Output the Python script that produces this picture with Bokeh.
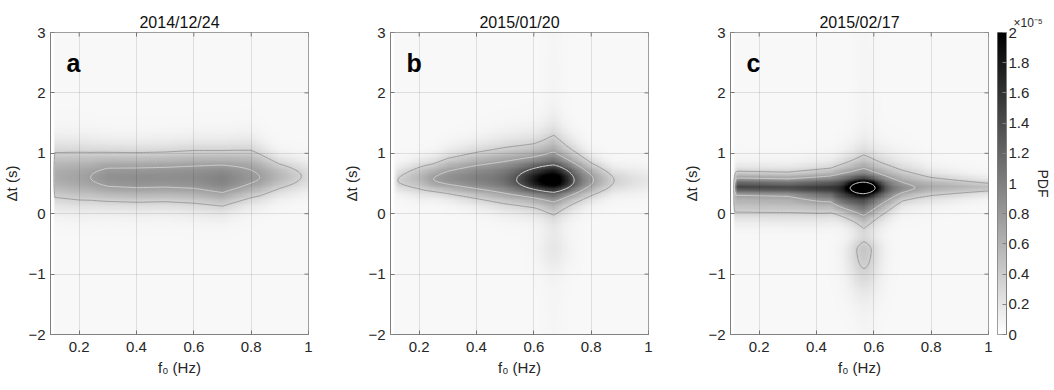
import numpy as np
import contourpy
from bokeh.plotting import figure
from bokeh.layouts import row
from bokeh.models import LinearColorMapper, FixedTicker, Label, Range1d
from bokeh.embed import file_html
from bokeh.resources import INLINE

# ---------------- data (PDF values in units of 1e-5) ----------------
panel_titles = ["2014/12/24", "2015/01/20", "2015/02/17"]
panel_letters = ["a", "b", "c"]
f0_range = [0.1, 1.0]
dt_range = [-2, 3]
f0_ticks = [0.2, 0.4, 0.6, 0.8, 1.0]
f0_tick_labels = ["0.2", "0.4", "0.6", "0.8", "1"]
dt_ticks = [-2, -1, 0, 1, 2, 3]
pdf_ticks = [0, 0.2, 0.4, 0.6, 0.8, 1.0, 1.2, 1.4, 1.6, 1.8, 2.0]
pdf_tick_labels = ["0", "0.2", "0.4", "0.6", "0.8", "1", "1.2", "1.4", "1.6", "1.8", "2"]
pdf_background = [0.06, 0.06, 0.06]
f0_start = 0.11

# panel a: PDF ridge along f0 (amplitude, centre dt, widths above/below, shape exponents)
a_f0 = [0.105, 0.115, 0.2, 0.24, 0.3, 0.4, 0.5, 0.6, 0.7, 0.8, 0.83, 0.9, 0.975, 1.0]
a_amp = [0.0, 0.6, 0.66, 0.7, 0.8, 0.82, 0.82, 0.84, 0.92, 0.75, 0.7, 0.5, 0.3, 0.22]
a_center = [0.62, 0.62, 0.6, 0.6, 0.6, 0.59, 0.6, 0.6, 0.57, 0.6, 0.6, 0.62, 0.62, 0.62]
a_width_up = [0.47, 0.47, 0.47, 0.45, 0.42, 0.42, 0.42, 0.44, 0.45, 0.47, 0.42, 0.28, 0.25, 0.25]
a_width_dn = [0.42, 0.42, 0.42, 0.41, 0.40, 0.40, 0.40, 0.42, 0.42, 0.35, 0.33, 0.28, 0.25, 0.25]
a_shape_up = [2.0] * 14
a_shape_dn = [2.0] * 14
a_spot_f0, a_spot_dt, a_spot_amp = [], [], []
a_spot_sf_lo, a_spot_sf_hi, a_spot_sdt_lo, a_spot_sdt_hi = [], [], [], []
a_levels = [0.36, 0.76]

# panel b
b_f0 = [0.105, 0.125, 0.2, 0.25, 0.3, 0.4, 0.5, 0.6, 0.67, 0.75, 0.8, 0.88, 0.95, 1.0]
b_amp = [0.0, 0.3, 0.5, 0.7, 0.8, 0.93, 1.0, 1.12, 1.16, 0.85, 0.7, 0.3, 0.18, 0.12]
b_center = [0.55, 0.55, 0.59, 0.57, 0.58, 0.58, 0.57, 0.56, 0.55, 0.55, 0.56, 0.55, 0.55, 0.55]
b_width_up = [0.21, 0.21, 0.25, 0.28, 0.34, 0.41, 0.48, 0.52, 0.62, 0.44, 0.30, 0.21, 0.21, 0.21]
b_width_dn = [0.18, 0.18, 0.25, 0.22, 0.25, 0.31, 0.37, 0.40, 0.47, 0.35, 0.28, 0.21, 0.21, 0.21]
b_shape_up = [2.0] * 14
b_shape_dn = [2.0] * 14
b_spot_f0 = [0.67, 0.67, 0.67]
b_spot_dt = [0.55, -0.6, 0.5]
b_spot_amp = [0.95, 0.1, 0.03]
b_spot_sf_lo = [0.08, 0.04, 0.025]
b_spot_sf_hi = [0.055, 0.04, 0.025]
b_spot_sdt_lo = [0.128, 0.25, 2.5]
b_spot_sdt_hi = [0.168, 0.25, 2.5]
b_levels = [0.36, 0.76, 1.36]

# panel c
c_f0 = [0.105, 0.12, 0.13, 0.3, 0.45, 0.565, 0.7, 0.745, 0.8, 1.0]
c_amp = [0.0, 1.3, 1.35, 1.3, 1.45, 1.4, 0.85, 0.7, 0.6, 0.45]
c_center = [0.44, 0.44, 0.44, 0.43, 0.43, 0.43, 0.42, 0.43, 0.45, 0.44]
c_width_up = [0.2, 0.2, 0.2, 0.2, 0.24, 0.39, 0.29, 0.26, 0.19, 0.115]
c_width_dn = [0.12, 0.12, 0.12, 0.12, 0.17, 0.49, 0.195, 0.19, 0.19, 0.115]
c_shape_up = [1.5] * 10
c_shape_dn = [1.5, 1.5, 1.5, 1.5, 1.5, 1.75, 1.5, 1.5, 1.5, 1.5]
c_spot_f0 = [0.565, 0.565, 0.57, 0.4]
c_spot_dt = [0.43, -0.62, 0.4, 0.2]
c_spot_amp = [1.6, 0.33, 0.03, 0.45]
c_spot_sf_lo = [0.038, 0.04, 0.025, 1.0]
c_spot_sf_hi = [0.038, 0.04, 0.025, 0.12]
c_spot_sdt_lo = [0.081, 0.45, 3.0, 0.2]
c_spot_sdt_hi = [0.088, 0.15, 3.0, 0.12]
c_levels = [0.36, 0.76, 2.26]

# ---------------- grid + density ----------------
F = np.linspace(f0_range[0], f0_range[1], 181)
T = np.linspace(dt_range[0], dt_range[1], 251)


def density(f0, amp, cen, wup, wdn, pup, pdn, sf0, sdt, samp, sflo, sfhi, sdlo, sdhi, bg):
    A = np.interp(F, f0, amp)
    C = np.interp(F, f0, cen)
    SU = np.interp(F, f0, wup)
    SD = np.interp(F, f0, wdn)
    PU = np.interp(F, f0, pup)
    PD = np.interp(F, f0, pdn)
    D = T[:, None] - C[None, :]
    up = D >= 0
    S = np.where(up, SU[None, :], SD[None, :])
    P = np.where(up, PU[None, :], PD[None, :])
    Z = A[None, :] * np.exp(-(np.abs(D) / S) ** P)
    Z = Z + bg
    for f, t, a, fl, fh, dl, dh in zip(sf0, sdt, samp, sflo, sfhi, sdlo, sdhi):
        dF = F - f
        sF = np.where(dF < 0, fl, fh)
        dT = T - t
        sT = np.where(dT < 0, dl, dh)
        Z = Z + a * np.exp(-0.5 * (dT / sT) ** 2)[:, None] * np.exp(-0.5 * (dF / sF) ** 2)[None, :]
    mask = np.clip((F - (f0_start - 0.005)) / 0.01, 0, 1)
    return Z * mask[None, :]


Za = density(a_f0, a_amp, a_center, a_width_up, a_width_dn, a_shape_up, a_shape_dn,
             a_spot_f0, a_spot_dt, a_spot_amp, a_spot_sf_lo, a_spot_sf_hi, a_spot_sdt_lo, a_spot_sdt_hi,
             pdf_background[0])
Zb = density(b_f0, b_amp, b_center, b_width_up, b_width_dn, b_shape_up, b_shape_dn,
             b_spot_f0, b_spot_dt, b_spot_amp, b_spot_sf_lo, b_spot_sf_hi, b_spot_sdt_lo, b_spot_sdt_hi,
             pdf_background[1])
Zc = density(c_f0, c_amp, c_center, c_width_up, c_width_dn, c_shape_up, c_shape_dn,
             c_spot_f0, c_spot_dt, c_spot_amp, c_spot_sf_lo, c_spot_sf_hi, c_spot_sdt_lo, c_spot_sdt_hi,
             pdf_background[2])

# ---------------- styling ----------------
FONT = "Liberation Sans"
TXT = "#262626"
AX = "#808080"
CONTOUR_COLORS = ["#9c9c9c", "#cdcdcd", "#d6d6d6"]
palette = ["#%02x%02x%02x" % (v, v, v) for v in range(255, -1, -1)]
mapper = LinearColorMapper(palette=palette, low=pdf_ticks[0], high=pdf_ticks[-1])


def style_axis(ax):
    ax.axis_line_color = AX
    ax.major_tick_line_color = AX
    ax.major_tick_in = 4
    ax.major_tick_out = 0
    ax.minor_tick_line_color = None
    ax.major_label_text_font = FONT
    ax.major_label_text_font_size = "15px"
    ax.major_label_text_color = TXT
    ax.axis_label_text_font = FONT
    ax.axis_label_text_font_size = "15px"
    ax.axis_label_text_font_style = "normal"
    ax.axis_label_text_color = TXT


def make_panel(i, Z, levels, width, border_right):
    p = figure(width=width, height=390, x_range=Range1d(*f0_range), y_range=Range1d(*dt_range),
               output_backend="svg", toolbar_location=None,
               min_border_left=50, min_border_right=border_right,
               min_border_top=32, min_border_bottom=56,
               title=panel_titles[i], x_axis_label="f₀ (Hz)", y_axis_label="Δt (s)")
    p.image(image=[Z], x=f0_range[0], y=dt_range[0], dw=f0_range[1] - f0_range[0],
            dh=dt_range[1] - dt_range[0], color_mapper=mapper)
    gen = contourpy.contour_generator(F, T, Z)
    for k, lev in enumerate(levels):
        segs = [np.asarray(s) for s in gen.lines(lev) if len(s) > 1]
        p.multi_line(xs=[s[:, 0].tolist() for s in segs], ys=[s[:, 1].tolist() for s in segs],
                     line_color=CONTOUR_COLORS[k], line_width=1)

    # inward ticks on the top and right edges of the box
    p.scatter(x=f0_ticks, y=[dt_range[1]] * len(f0_ticks), marker="dash", angle=np.pi / 2,
              size=8, line_color=AX, line_width=1)
    p.scatter(x=[f0_range[1]] * len(dt_ticks), y=dt_ticks, marker="dash",
              size=8, line_color=AX, line_width=1)

    p.title.align = "center"
    p.title.text_font = FONT
    p.title.text_font_size = "16px"
    p.title.text_font_style = "normal"
    p.title.text_color = "#111111"
    p.title.standoff = 4

    p.xaxis.ticker = FixedTicker(ticks=f0_ticks)
    p.xaxis.major_label_overrides = dict(zip(f0_ticks, f0_tick_labels))
    p.yaxis.ticker = FixedTicker(ticks=dt_ticks)
    style_axis(p.xaxis[0])
    style_axis(p.yaxis[0])
    p.xaxis.major_label_standoff = 7
    p.xaxis.axis_label_standoff = 4
    p.yaxis.major_label_standoff = 5
    p.yaxis.axis_label_standoff = 5

    p.grid.grid_line_color = "#000000"
    p.grid.grid_line_alpha = 0.1
    p.grid.level = "overlay"
    p.outline_line_color = AX
    p.background_fill_color = "white"
    p.border_fill_color = "white"

    p.add_layout(Label(x=16, y=272, x_units="screen", y_units="screen", text=panel_letters[i],
                       text_font=FONT, text_font_size="25px", text_font_style="bold",
                       text_color="black", text_baseline="alphabetic"))
    return p


pa = make_panel(0, Za, a_levels, 340, 32)
pb = make_panel(1, Zb, b_levels, 340, 32)
pc = make_panel(2, Zc, c_levels, 313, 5)

# ---------------- colour bar as its own small plot ----------------
cbf = figure(width=1054 - 340 - 340 - 313, height=390, x_range=Range1d(0, 1),
             y_range=Range1d(pdf_ticks[0], pdf_ticks[-1]),
             output_backend="svg", toolbar_location=None, x_axis_type=None, y_axis_location="right",
             min_border_left=4, min_border_right=42, min_border_top=32, min_border_bottom=56,
             title="×10⁻⁵", y_axis_label="PDF")
cbf.image(image=[np.linspace(pdf_ticks[0], pdf_ticks[-1], 256)[:, None]], x=0, y=pdf_ticks[0],
          dw=1, dh=pdf_ticks[-1] - pdf_ticks[0], color_mapper=mapper)
cbf.yaxis.ticker = FixedTicker(ticks=pdf_ticks)
cbf.yaxis.major_label_overrides = dict(zip(pdf_ticks, pdf_tick_labels))
style_axis(cbf.yaxis[0])
cbf.yaxis.major_label_standoff = 2
cbf.yaxis.axis_label_standoff = 3
cbf.yaxis.axis_label_text_font_size = "14px"
cbf.grid.visible = False
cbf.outline_line_color = AX
cbf.border_fill_color = "white"
cbf.title.align = "left"
cbf.title.offset = 16
cbf.title.standoff = 6
cbf.title.text_font = FONT
cbf.title.text_font_size = "12px"
cbf.title.text_font_style = "normal"
cbf.title.text_color = TXT

layout = row(pa, pb, pc, cbf, spacing=0)
open("out.html", "w").write(file_html(layout, INLINE))
